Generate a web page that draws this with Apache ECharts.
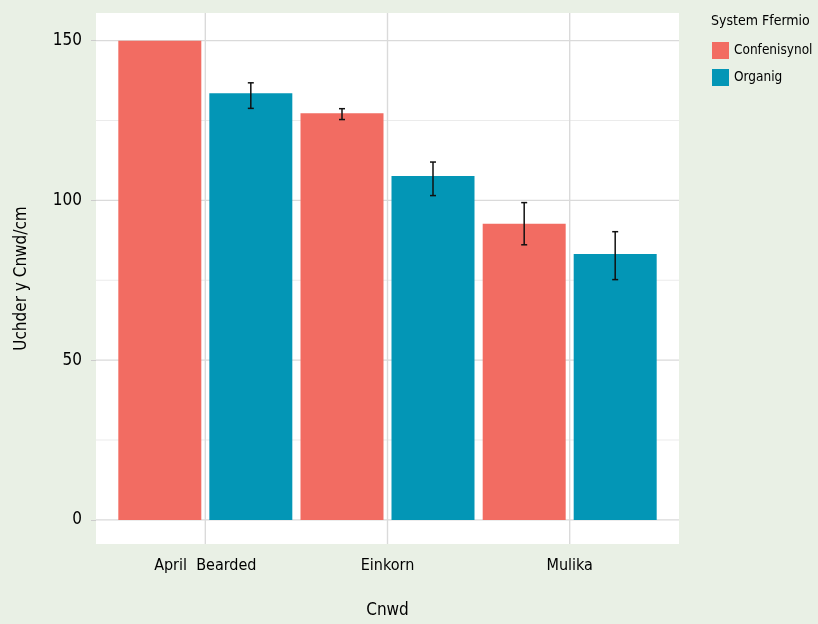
<!DOCTYPE html>
<html><head><meta charset="utf-8">
<script src="https://cdn.jsdelivr.net/npm/echarts@6/dist/echarts.min.js"></script>
<style>html,body{margin:0;padding:0;background:#e9f0e5}#c{width:818px;height:624px}</style>
</head><body><div id="c"></div>
<script>
const categories = ['April  Bearded', 'Einkorn', 'Mulika'];
const seriesNames = ['Confenisynol', 'Organig'];
const confValues = [150, 127.3, 92.7];
const confLow = [null, 125.3, 86.1];
const confHigh = [null, 128.7, 99.3];
const orgValues = [133.5, 107.6, 83.2];
const orgLow = [128.8, 101.5, 75.2];
const orgHigh = [136.8, 112.0, 90.2];
const yTicks = [0, 50, 100, 150];
const yMinor = [25, 75, 125];

const FONT = '"Liberation Sans Narrow","Noto Sans Condensed","Noto Sans ExtraCondensed","DejaVu Sans Condensed",sans-serif';
const RED = '#f26c62', TEAL = '#0396b6';
const BAR_W = 83, GAP = 8, OFF = (BAR_W + GAP) / 2;
const xs = categories.map((c, i) => i + 1);

function errSeries(low, high, off) {
  return {
    type: 'custom', z: 5, silent: true,
    data: xs.map((x, i) => [x, low[i], high[i]]).filter(d => d[1] != null),
    renderItem: function (params, api) {
      const p1 = api.coord([api.value(0), api.value(1)]);
      const p2 = api.coord([api.value(0), api.value(2)]);
      const x = p1[0] + off, hw = 3;
      const st = { stroke: '#111', lineWidth: 1.5 };
      return { type: 'group', children: [
        { type: 'line', shape: { x1: x, y1: p1[1], x2: x, y2: p2[1] }, style: st },
        { type: 'line', shape: { x1: x - hw, y1: p1[1], x2: x + hw, y2: p1[1] }, style: st },
        { type: 'line', shape: { x1: x - hw, y1: p2[1], x2: x + hw, y2: p2[1] }, style: st }
      ]};
    }
  };
}

// grid lines: [orientation (0 = horizontal, 1 = vertical), value, major(1)/minor(0)]
const gridLines = [
  ...yMinor.map(v => [0, v, 0]),
  ...yTicks.map(v => [0, v, 1]),
  ...xs.map(v => [1, v, 1])
];

const chart = echarts.init(document.getElementById('c'));
chart.setOption({
  backgroundColor: '#e9f0e5',
  animation: false,
  textStyle: { fontFamily: FONT },
  title: { text: 'System Ffermio', left: 711, top: 14, padding: 0,
    textStyle: { fontFamily: FONT, fontSize: 14, fontWeight: 'normal', color: '#000' } },
  legend: {
    orient: 'vertical', left: 712, top: 42, padding: 0, itemWidth: 17, itemHeight: 17, itemGap: 10,
    icon: 'rect', data: seriesNames,
    textStyle: { fontFamily: FONT, fontSize: 13.5, color: '#000' }
  },
  grid: { left: 96, right: 139, top: 13, bottom: 76, show: true, backgroundColor: '#ffffff', borderWidth: 0 },
  xAxis: {
    type: 'value', min: 0.4, max: 3.6,
    name: 'Cnwd', nameLocation: 'middle', nameGap: 58,
    nameTextStyle: { fontFamily: FONT, fontSize: 17, color: '#000' },
    axisLine: { show: false },
    axisTick: { show: true, length: 5, customValues: xs, lineStyle: { color: '#cccccc', width: 1 } },
    axisLabel: { customValues: xs, margin: 14, fontFamily: FONT, fontSize: 16, color: '#000',
      formatter: v => categories[Math.round(v) - 1] || '' },
    splitLine: { show: false }
  },
  yAxis: {
    type: 'value', min: -7.55, max: 158.65,
    name: 'Uchder y Cnwd/cm', nameLocation: 'middle', nameGap: 66,
    nameTextStyle: { fontFamily: FONT, fontSize: 17, color: '#000' },
    axisLine: { show: false },
    axisTick: { show: true, length: 5, customValues: yTicks, lineStyle: { color: '#cccccc', width: 1 } },
    axisLabel: { customValues: yTicks, margin: 14, fontFamily: FONT, fontSize: 17, color: '#000' },
    splitLine: { show: false }
  },
  series: [
    {
      type: 'custom', z: 1, silent: true, data: gridLines,
      encode: { x: -1, y: -1 },
      renderItem: function (params, api) {
        const cs = params.coordSys;
        const o = api.value(0), v = api.value(1), major = api.value(2);
        const st = { stroke: major ? '#dadada' : '#ebebeb', lineWidth: major ? 1.4 : 1 };
        if (o === 0) {
          const y = api.coord([1, v])[1];
          return { type: 'line', shape: { x1: cs.x, y1: y, x2: cs.x + cs.width, y2: y }, style: st };
        }
        const x = api.coord([v, 0])[0];
        return { type: 'line', shape: { x1: x, y1: cs.y, x2: x, y2: cs.y + cs.height }, style: st };
      }
    },
    { name: seriesNames[0], type: 'bar', z: 2, barWidth: BAR_W, barGap: (GAP / BAR_W * 100) + '%',
      itemStyle: { color: RED }, data: xs.map((x, i) => [x, confValues[i]]) },
    { name: seriesNames[1], type: 'bar', z: 2, barWidth: BAR_W, barGap: (GAP / BAR_W * 100) + '%',
      itemStyle: { color: TEAL }, data: xs.map((x, i) => [x, orgValues[i]]) },
    errSeries(confLow, confHigh, -OFF),
    errSeries(orgLow, orgHigh, OFF)
  ]
});
</script></body></html>
